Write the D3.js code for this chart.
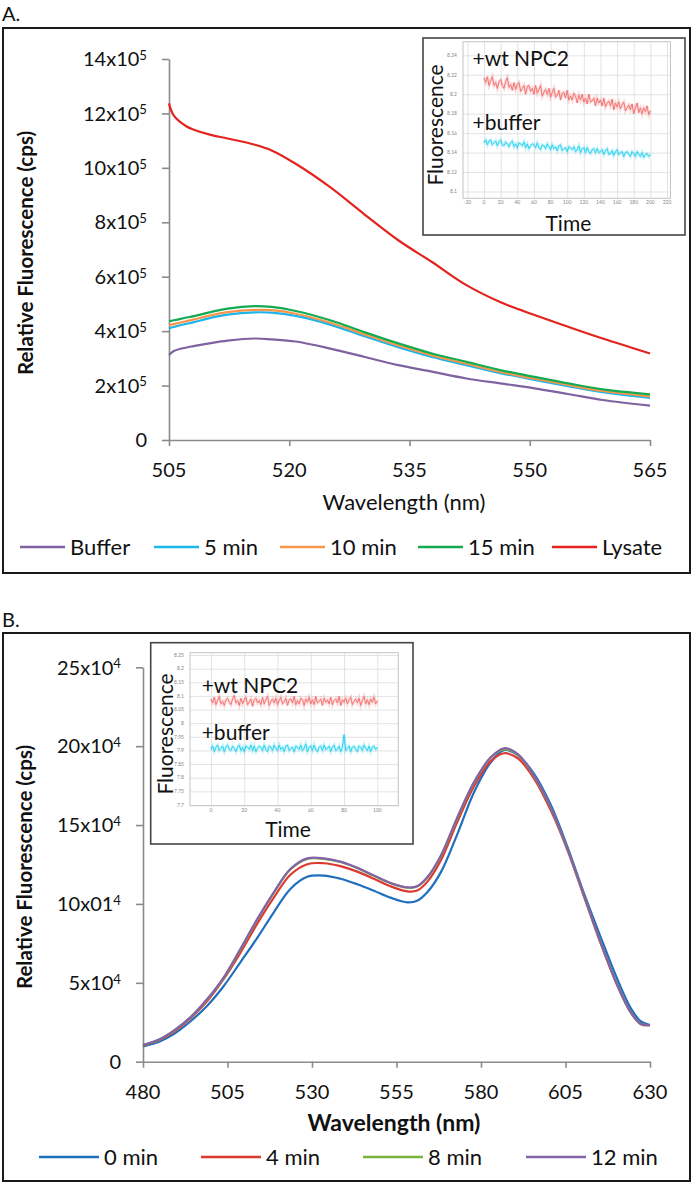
<!DOCTYPE html>
<html><head><meta charset="utf-8">
<script src="https://cdn.jsdelivr.net/npm/d3@7"></script>
<style>
body{margin:0;background:#fff}
svg{display:block}
text{font-family:Lato,"Open Sans",sans-serif;fill:#111}
</style>
</head><body>
<svg id="c" width="693" height="1184"></svg>
<script>
// ---------------- DATA : Panel A (values in units of 10^5 cps) ----------------
const wavelengthA = [505, 505.6, 507.2, 508.1, 510.2, 512.3, 515.7, 517.8, 520.8, 525.1, 529.3, 533.6, 537.8, 542.1, 546.3, 550.6, 554.8, 559.1, 565];
const bufferA = [3.12, 3.27, 3.40, 3.45, 3.56, 3.65, 3.73, 3.70, 3.62, 3.36, 3.06, 2.75, 2.51, 2.26, 2.08, 1.90, 1.69, 1.47, 1.26];
const min5A   = [4.10, 4.15, 4.27, 4.33, 4.49, 4.61, 4.69, 4.68, 4.56, 4.24, 3.82, 3.41, 3.05, 2.75, 2.46, 2.21, 1.98, 1.76, 1.55];
const min10A  = [4.22, 4.26, 4.37, 4.43, 4.58, 4.70, 4.78, 4.77, 4.64, 4.31, 3.89, 3.47, 3.11, 2.80, 2.50, 2.25, 2.02, 1.80, 1.60];
const min15A  = [4.37, 4.40, 4.50, 4.55, 4.70, 4.83, 4.92, 4.89, 4.74, 4.40, 3.97, 3.55, 3.18, 2.87, 2.57, 2.32, 2.08, 1.86, 1.68];
const lysateA = [12.37, 11.92, 11.52, 11.40, 11.21, 11.08, 10.85, 10.64, 10.15, 9.29, 8.31, 7.34, 6.54, 5.69, 5.07, 4.59, 4.16, 3.73, 3.18];
const seriesNamesA = ["Buffer", "5 min", "10 min", "15 min", "Lysate"];
const seriesColorsA = ["#7f62a0", "#1cb4ec", "#f7964a", "#14aa52", "#e3241e"];
const xTicksA = [505, 520, 535, 550, 565];
const yTicksA = [0, 2, 4, 6, 8, 10, 12, 14];
const yTickBaseA = ["0", "2x10", "4x10", "6x10", "8x10", "10x10", "12x10", "14x10"];
const yTickExpA = "5";

// Panel A inset (time 0..200, step 2)
const insetNpc2A = [8.217,8.212,8.218,8.209,8.214,8.218,8.209,8.212,8.206,8.213,8.215,8.209,8.206,8.213,8.217,8.207,8.210,8.204,8.212,8.205,8.210,8.212,8.203,8.206,8.209,8.200,8.208,8.209,8.203,8.206,8.200,8.209,8.201,8.205,8.209,8.198,8.202,8.205,8.200,8.206,8.197,8.202,8.206,8.197,8.199,8.204,8.194,8.201,8.202,8.196,8.204,8.194,8.198,8.194,8.201,8.198,8.191,8.199,8.194,8.200,8.192,8.196,8.190,8.200,8.192,8.193,8.196,8.188,8.196,8.191,8.194,8.188,8.196,8.187,8.191,8.193,8.188,8.195,8.184,8.191,8.187,8.192,8.185,8.189,8.192,8.183,8.186,8.189,8.184,8.190,8.180,8.186,8.191,8.181,8.186,8.180,8.186,8.182,8.188,8.179,8.183];
const insetBufA  = [8.150,8.153,8.148,8.152,8.153,8.148,8.150,8.152,8.147,8.151,8.153,8.148,8.147,8.151,8.149,8.146,8.150,8.152,8.146,8.149,8.145,8.150,8.149,8.147,8.151,8.145,8.149,8.144,8.147,8.149,8.148,8.145,8.150,8.145,8.143,8.148,8.147,8.144,8.149,8.146,8.143,8.148,8.144,8.146,8.142,8.147,8.148,8.142,8.144,8.145,8.141,8.146,8.145,8.143,8.146,8.141,8.143,8.147,8.140,8.144,8.145,8.140,8.145,8.141,8.139,8.143,8.144,8.140,8.144,8.140,8.141,8.143,8.138,8.142,8.144,8.138,8.139,8.142,8.137,8.141,8.143,8.138,8.140,8.141,8.136,8.140,8.141,8.138,8.136,8.141,8.139,8.136,8.141,8.138,8.136,8.140,8.135,8.138,8.139,8.136,8.138];
const insetXTicksA = [-20,0,20,40,60,80,100,120,140,160,180,200,220];
const insetYTicksA = [8.1,8.12,8.14,8.16,8.18,8.2,8.22,8.24];

// ---------------- DATA : Panel B (values in units of 10^4 cps) ----------------
const wavelengthB = [480, 485.1, 489.1, 494, 499, 503.9, 508.8, 513.8, 518.7, 523.6, 528.6, 533.5, 538.4, 543.4, 548.3, 553.2, 558.2, 561.1, 564.1, 568.1, 573, 577.9, 582.9, 586.8, 590.8, 595.7, 600.6, 605.6, 610.5, 615.4, 620.4, 624.3, 627.3, 630];
const min0B  = [0.97,1.30,1.75,2.55,3.55,4.80,6.30,7.85,9.47,10.95,11.72,11.80,11.60,11.25,10.84,10.40,10.10,10.20,10.74,12.00,14.43,17.07,18.98,19.75,19.45,18.25,16.30,13.60,10.65,7.90,5.20,3.40,2.55,2.32];
const min4B  = [1.02,1.40,1.90,2.75,3.85,5.25,6.90,8.75,10.40,11.85,12.52,12.58,12.40,12.05,11.60,11.12,10.80,10.85,11.40,12.75,15.20,17.45,19.05,19.55,19.25,17.95,15.95,13.40,10.45,7.50,4.80,3.12,2.38,2.32];
const min8B  = [1.04,1.42,1.95,2.80,3.95,5.32,7.10,9.00,10.70,12.18,12.86,12.86,12.66,12.27,11.78,11.32,11.03,11.10,11.66,13.02,15.45,17.68,19.30,19.80,19.48,18.10,16.10,13.46,10.50,7.56,4.82,3.13,2.39,2.32];
const min12B = [1.06,1.44,1.97,2.81,3.97,5.35,7.14,9.04,10.74,12.21,12.89,12.89,12.68,12.29,11.80,11.33,11.05,11.12,11.69,13.06,15.49,17.71,19.29,19.87,19.51,18.13,16.12,13.48,10.52,7.57,4.82,3.13,2.39,2.32];
const seriesNamesB = ["0 min", "4 min", "8 min", "12 min"];
const seriesColorsB = ["#1f6fbf", "#dc3a30", "#78b43c", "#8462a8"];
const xTicksB = [480, 505, 530, 555, 580, 605, 630];
const yTicksB = [0, 5, 10, 15, 20, 25];
const yTickBaseB = ["0", "5x10", "10x01", "15x10", "20x10", "25x10"];
const yTickExpB = "4";

// Panel B inset (time 0..100, step 1)
const insetNpc2B = [8.089,8.074,8.095,8.068,8.083,8.098,8.071,8.080,8.065,8.086,8.092,8.077,8.068,8.089,8.101,8.074,8.083,8.065,8.092,8.071,8.086,8.095,8.068,8.077,8.089,8.062,8.086,8.092,8.074,8.083,8.068,8.095,8.071,8.086,8.098,8.065,8.080,8.089,8.074,8.092,8.068,8.083,8.095,8.071,8.077,8.092,8.065,8.086,8.089,8.074,8.098,8.068,8.083,8.071,8.092,8.086,8.065,8.089,8.077,8.095,8.071,8.086,8.068,8.098,8.074,8.080,8.089,8.065,8.092,8.077,8.086,8.071,8.095,8.068,8.083,8.089,8.074,8.098,8.065,8.086,8.077,8.092,8.071,8.086,8.095,8.068,8.080,8.089,8.074,8.092,8.065,8.083,8.098,8.071,8.086,8.068,8.089,8.077,8.095,8.071,8.083];
const insetBufB  = [7.904,7.916,7.896,7.912,7.920,7.900,7.908,7.916,7.896,7.912,7.920,7.904,7.900,7.916,7.908,7.896,7.912,7.920,7.900,7.912,7.896,7.916,7.912,7.904,7.920,7.900,7.916,7.896,7.908,7.916,7.912,7.900,7.920,7.904,7.896,7.916,7.912,7.900,7.920,7.908,7.900,7.920,7.904,7.912,7.896,7.916,7.920,7.900,7.908,7.912,7.896,7.916,7.912,7.904,7.920,7.900,7.908,7.924,7.896,7.912,7.916,7.900,7.920,7.904,7.896,7.912,7.916,7.900,7.920,7.904,7.908,7.916,7.896,7.912,7.920,7.900,7.904,7.916,7.896,7.912,7.958,7.900,7.908,7.916,7.896,7.912,7.916,7.904,7.896,7.916,7.912,7.900,7.920,7.908,7.900,7.916,7.896,7.912,7.916,7.904,7.912];
const insetXTicksB = [0,20,40,60,80,100];
const insetYTicksB = [7.7,7.75,7.8,7.85,7.9,7.95,8,8.05,8.1,8.15,8.2,8.25];

// ---------------- DRAW ----------------
const svg = d3.select("#c");
const AXIS_COL = "#8a8a8a";

function styleAxis(g){
  g.select(".domain").attr("stroke", AXIS_COL).attr("stroke-width", 1.6);
  g.selectAll(".tick line").attr("stroke", AXIS_COL).attr("stroke-width", 1.6);
}
function supLabel(sel, base, exp){
  sel.append("tspan").text(base);
  if (exp) sel.append("tspan").attr("dy", "-0.48em").attr("font-size", "0.66em").text(exp);
}

function mainPanel(o){
  const g = svg.append("g");
  g.append("rect").attr("x", o.frame[0]).attr("y", o.frame[1]).attr("width", o.frame[2]).attr("height", o.frame[3])
    .attr("fill", "none").attr("stroke", "#1a1a1a").attr("stroke-width", 2);
  g.append("text").attr("x", 2).attr("y", o.letterY).attr("font-size", 20).text(o.letter);

  const x = d3.scaleLinear().domain(o.xDomain).range(o.xRange);
  const y = d3.scaleLinear().domain(o.yDomain).range(o.yRange);

  g.append("g").attr("transform", `translate(0,${o.yRange[0]})`)
    .call(d3.axisBottom(x).tickValues(o.xTicks).tickSize(6).tickSizeOuter(0).tickFormat(() => ""))
    .call(styleAxis);
  g.append("g").attr("transform", `translate(${o.xRange[0]},0)`)
    .call(d3.axisLeft(y).tickValues(o.yTicks).tickSize(7).tickSizeOuter(0).tickFormat(() => ""))
    .call(styleAxis);

  g.selectAll(".xl").data(o.xTicks).join("text")
    .attr("x", d => x(d)).attr("y", o.yRange[0] + 37).attr("text-anchor", "middle")
    .attr("font-size", 20).text(d => d);
  g.selectAll(".yl").data(o.yTicks).join("text")
    .attr("x", o.xRange[0] - 22).attr("y", d => y(d)).attr("dy", "0.36em").attr("text-anchor", "end")
    .attr("font-size", 20)
    .each(function(d, i){ supLabel(d3.select(this), o.yBase[i], d === 0 ? null : o.yExp); });

  g.append("text").attr("x", o.xTitleX).attr("y", o.xTitleY).attr("text-anchor", "middle")
    .attr("font-size", o.xTitleSize).attr("font-weight", o.xTitleBold ? "bold" : "normal").text("Wavelength (nm)");
  g.append("text").attr("transform", `translate(${o.yTitleX},${o.yTitleY}) rotate(-90)`)
    .attr("text-anchor", "middle").attr("font-size", 20.5).attr("font-weight", "bold")
    .text("Relative Fluorescence (cps)");

  const line = d3.line().x((d, i) => x(o.wl[i])).y(d => y(d)).curve(d3.curveCatmullRom.alpha(0.5));
  g.selectAll(".series").data(o.series).join("path")
    .attr("d", d => line(d)).attr("fill", "none")
    .attr("stroke", (d, i) => o.colors[i]).attr("stroke-width", 2.2);

  const lg = g.selectAll(".lg").data(o.names).join("g")
    .attr("transform", (d, i) => `translate(${o.legendX[i]},${o.legendY})`);
  lg.append("line").attr("x1", 0).attr("x2", o.legendLen).attr("stroke", (d, i) => o.colors[i]).attr("stroke-width", 2.5);
  lg.append("text").attr("x", o.legendLen + 5).attr("dy", "0.36em").attr("font-size", 22).text(d => d);
  return g;
}

function inset(o){
  const g = svg.append("g");
  g.append("rect").attr("x", o.box[0]).attr("y", o.box[1]).attr("width", o.box[2]).attr("height", o.box[3])
    .attr("fill", "#fff").attr("stroke", "#444").attr("stroke-width", 1.6);
  const x = d3.scaleLinear().domain(o.xDomain).range(o.xRange);
  const y = d3.scaleLinear().domain(o.yDomain).range(o.yRange);
  g.append("g").attr("transform", `translate(0,${o.yRange[0]})`)
    .call(d3.axisBottom(x).tickValues(o.xTicks).tickSize(-(o.yRange[0] - o.yRange[1])).tickFormat(""))
    .call(s => { s.select(".domain").remove(); s.selectAll("line").attr("stroke", "#dcdcdc").attr("stroke-width", 0.8); });
  g.append("g").attr("transform", `translate(${o.xRange[0]},0)`)
    .call(d3.axisLeft(y).tickValues(o.yTicks).tickSize(-(o.xRange[1] - o.xRange[0])).tickFormat(""))
    .call(s => { s.select(".domain").remove(); s.selectAll("line").attr("stroke", "#dcdcdc").attr("stroke-width", 0.8); });
  g.append("rect").attr("x", o.xRange[0]).attr("y", o.yRange[1]).attr("width", o.xRange[1] - o.xRange[0])
    .attr("height", o.yRange[0] - o.yRange[1]).attr("fill", "none").attr("stroke", "#c4c4c4").attr("stroke-width", 1);
  g.selectAll(".ixl").data(o.xTicks).join("text").attr("x", d => x(d)).attr("y", o.yRange[0] + 6)
    .attr("text-anchor", "middle").attr("font-size", 5).style("fill", "#888").text(d => d);
  g.selectAll(".iyl").data(o.yTicks).join("text").attr("x", o.xRange[0] - 6).attr("y", d => y(d)).attr("dy", "0.35em")
    .attr("text-anchor", "end").attr("font-size", 5).style("fill", "#888").text(d => d);
  const line = d3.line().x((d, i) => x(o.t0 + i * o.dt)).y(d => y(d));
  [[o.top, "#f36a6a"], [o.bot, "#1ccfee"]].forEach(([data, col]) => {
    g.append("path").attr("d", line(data)).attr("fill", "none").attr("stroke", col).attr("stroke-width", 3).attr("stroke-opacity", 0.25);
    g.append("path").attr("d", line(data)).attr("fill", "none").attr("stroke", col).attr("stroke-width", 1).attr("stroke-opacity", 0.9);
  });
  g.append("text").attr("x", o.lab1[0]).attr("y", o.lab1[1]).attr("font-size", 21).text("+wt NPC2");
  g.append("text").attr("x", o.lab2[0]).attr("y", o.lab2[1]).attr("font-size", 21).text("+buffer");
  g.append("text").attr("transform", `translate(${o.fl[0]},${o.fl[1]}) rotate(-90)`).attr("dy", "0.36em")
    .attr("text-anchor", "middle").attr("font-size", 21).text("Fluorescence");
  g.append("text").attr("x", o.time[0]).attr("y", o.time[1]).attr("text-anchor", "middle").attr("font-size", 21).text("Time");
}

// Panel A
mainPanel({
  frame: [3, 28, 687, 545], letter: "A.", letterY: 21,
  xDomain: [505, 565], xRange: [169, 650], yDomain: [0, 14], yRange: [440, 59],
  xTicks: xTicksA, yTicks: yTicksA, yBase: yTickBaseA, yExp: yTickExpA,
  xTitleX: 404, xTitleY: 510, xTitleSize: 22, xTitleBold: false, yTitleX: 33, yTitleY: 253,
  wl: wavelengthA, series: [bufferA, min5A, min10A, min15A, lysateA],
  colors: seriesColorsA, names: seriesNamesA,
  legendX: [20, 154, 280, 418, 552], legendY: 547, legendLen: 45
});
inset({
  box: [423, 38, 262, 197],
  xDomain: [-25.3, 224.2], xRange: [463, 670.5], yDomain: [8.093, 8.254], yRange: [198.3, 41.7],
  xTicks: insetXTicksA, yTicks: insetYTicksA, t0: 0, dt: 2, top: insetNpc2A, bot: insetBufA,
  lab1: [472.5, 65.5], lab2: [472.5, 130], fl: [435.7, 125], time: [568.4, 231]
});

// Panel B
mainPanel({
  frame: [3, 633, 687, 548], letter: "B.", letterY: 627,
  xDomain: [480, 630], xRange: [143, 650], yDomain: [0, 25], yRange: [1061.7, 667.3],
  xTicks: xTicksB, yTicks: yTicksB, yBase: yTickBaseB, yExp: yTickExpB,
  xTitleX: 394, xTitleY: 1131, xTitleSize: 23, xTitleBold: true, yTitleX: 32, yTitleY: 867,
  wl: wavelengthB, series: [min0B, min4B, min8B, min12B],
  colors: seriesColorsB, names: seriesNamesB,
  legendX: [39, 201, 363, 526], legendY: 1157, legendLen: 60
});
inset({
  box: [150.7, 642.7, 262.3, 201.3],
  xDomain: [-12.6, 112.6], xRange: [190, 398.3], yDomain: [7.6974, 8.2585], yRange: [805.7, 652.7],
  xTicks: insetXTicksB, yTicks: insetYTicksB, t0: 0, dt: 1, top: insetNpc2B, bot: insetBufB,
  lab1: [201.7, 693.3], lab2: [201.7, 740], fl: [165, 734], time: [288, 837]
});
</script>
</body></html>
